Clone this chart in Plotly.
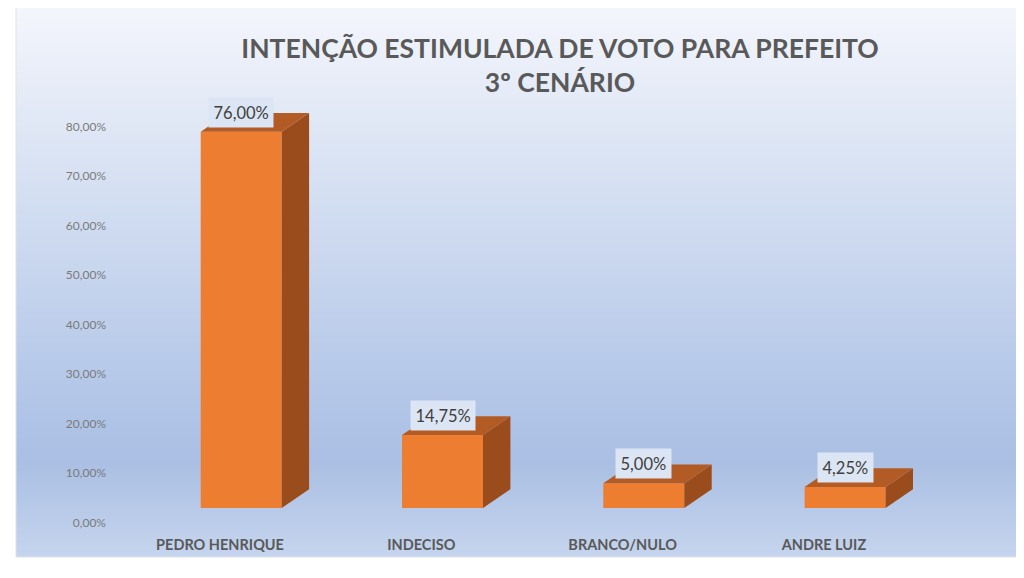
import plotly.graph_objects as go

categories = ["PEDRO HENRIQUE", "INDECISO", "BRANCO/NULO", "ANDRE LUIZ"]
values = [0.76, 0.1475, 0.05, 0.0425]
title_text = "INTENÇÃO ESTIMULADA DE VOTO PARA PREFEITO<br>3º CENÁRIO"

# the page body keeps its default 8px margin, so the figure starts at (8, 8)
OX, OY = 8, 8
W, H = 1024 - OX, 578 - OY
# plot area in page pixels
L, R, T, B = 112, 1005, 90, 530

# pixel geometry of the excel-like 3D column chart (page pixels)
slot = 201.3        # px between categories
label_x0 = 220      # px of first category label
bar_x0 = 241.2      # px of first bar front centre
yscale = 495        # px per 100%
axis_zero = 522.5   # px of the 0,00% tick label
bar_zero = 508      # px of the bars' front base
bar_w = 81 / slot
dx = 27.4 / slot
dy = 18.8 / yscale

FRONT = "#ED7D31"
SIDE = "#9A4C1D"
TOP = "#B35B24"


def paper_x(p):
    return (p - L) / (R - L)


def paper_y(p):
    return (B - p) / (B - T)


def mix(c1, c2, t):
    a = [int(c1[i:i + 2], 16) for i in (1, 3, 5)]
    b = [int(c2[i:i + 2], 16) for i in (1, 3, 5)]
    return "rgb(%d,%d,%d)" % tuple(round(a[k] + (b[k] - a[k]) * t) for k in range(3))


# background gradient (frame area)
fx0, fx1, fy0, fy1 = 16, 1019, 6, 557
stops = [(0.0, "#F4F6FC"), (0.35, "#D3DEF1"), (0.74, "#B0C4E7"), (0.83, "#AABFE3"), (1.0, "#C6D5EE")]

shapes = []
step = 3
py = fy0
while py < fy1:
    t = (py + step / 2 - fy0) / (fy1 - fy0)
    for (s0, c0), (s1, c1) in zip(stops[:-1], stops[1:]):
        if s0 <= t <= s1:
            col = mix(c0, c1, (t - s0) / (s1 - s0))
            break
    else:
        col = stops[-1][1]
    shapes.append(dict(type="rect", xref="paper", yref="paper", layer="below",
                       x0=paper_x(fx0), x1=paper_x(fx1),
                       y0=paper_y(min(py + step + 0.6, fy1)), y1=paper_y(py),
                       fillcolor=col, line=dict(width=0)))
    py += step
shapes.append(dict(type="rect", xref="paper", yref="paper", layer="above",
                   x0=paper_x(fx0), x1=paper_x(fx1), y0=paper_y(fy1), y1=paper_y(fy0),
                   fillcolor="rgba(0,0,0,0)", line=dict(color="#DDE1E8", width=1)))

pos = list(range(len(categories)))

side_x, side_y, top_x, top_y = [], [], [], []
for i, v in zip(pos, values):
    xl, xr = i - bar_w / 2, i + bar_w / 2
    side_x += [xr, xr + dx, xr + dx, xr, xr, None]
    side_y += [0, dy, v + dy, v, 0, None]
    top_x += [xl, xl + dx, xr + dx, xr, xl, None]
    top_y += [v, v + dy, v + dy, v, v, None]

fig = go.Figure()

# hidden trace carrying the category / percentage axes
fig.add_trace(go.Scatter(x=categories, y=[0] * len(categories), mode="markers",
                         marker=dict(opacity=0), hoverinfo="skip", showlegend=False))

fig.add_trace(go.Scatter(x=side_x, y=side_y, xaxis="x2", yaxis="y2", mode="lines",
                         fill="toself", fillcolor=SIDE, line=dict(width=0),
                         hoverinfo="skip", showlegend=False))
fig.add_trace(go.Scatter(x=top_x, y=top_y, xaxis="x2", yaxis="y2", mode="lines",
                         fill="toself", fillcolor=TOP, line=dict(width=0),
                         hoverinfo="skip", showlegend=False))
fig.add_trace(go.Bar(x=pos, y=values, width=bar_w, xaxis="x2", yaxis="y2",
                     marker=dict(color=FRONT, line=dict(width=0)),
                     hovertext=categories, showlegend=False))

annotations = []
for i, v in zip(pos, values):
    annotations.append(dict(
        x=i, y=v, xref="x2", yref="y2", xanchor="center", yanchor="bottom", yshift=4,
        text=("%.2f%%" % (v * 100)).replace(".", ","), showarrow=False,
        font=dict(family="Lato", size=16.5, color="#404040"),
        bgcolor="#DCE5F3", borderpad=4.5))

fig.update_layout(
    width=W, height=H,
    margin=dict(l=L - OX, r=1024 - R, t=T - OY, b=578 - B),
    paper_bgcolor="white",
    plot_bgcolor="rgba(0,0,0,0)",
    separators=",.",
    shapes=shapes,
    annotations=annotations,
    title=dict(text=title_text, x=(560 - OX) / W, xanchor="center", xref="container",
               y=1 - 50 / H, yanchor="top",
               font=dict(family="Lato", size=26.5, color="#595959", weight="bold")),
    xaxis=dict(type="category", range=[(L - label_x0) / slot, (R - label_x0) / slot],
               showgrid=False, zeroline=False, showline=False, ticks="",
               tickfont=dict(family="Lato", size=14.5, color="#595959", weight="bold"),
               ticklabelstandoff=4),
    yaxis=dict(range=[(axis_zero - B) / yscale, (axis_zero - T) / yscale],
               tick0=0, dtick=0.1, tickformat=".2%",
               showgrid=False, zeroline=False, showline=False, ticks="",
               tickfont=dict(family="Lato", size=12, color="#7A7A7A"),
               ticklabelstandoff=5),
    xaxis2=dict(overlaying="x", visible=False,
                range=[(L - bar_x0) / slot, (R - bar_x0) / slot]),
    yaxis2=dict(overlaying="y", visible=False,
                range=[(bar_zero - B) / yscale, (bar_zero - T) / yscale]),
)

fig.write_html("out.html")
